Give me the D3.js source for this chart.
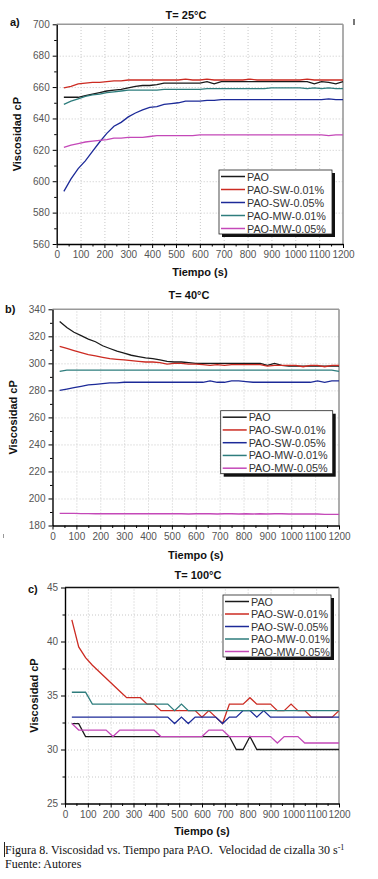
<!DOCTYPE html>
<html lang="es">
<head>
<meta charset="UTF-8" />
<title>Viscosidad vs Tiempo PAO</title>
<style>
  body { margin: 0; background: #fff; }
  svg { display: block; font-family: "Liberation Sans", Arial, sans-serif; }
  .tick text { fill: #555; font-size: 10px; }
  .grid line { stroke: #c8c8c8; stroke-dasharray: 1 2; }
  .grid path { display: none; }
  .title, .axis-title { font-weight: bold; font-size: 11px; fill: #111; }
  .leg text { font-size: 10.8px; fill: #333; }
  .caption { font-family: "Liberation Serif", "Times New Roman", serif; font-size: 12px; fill: #111; white-space: pre; }
</style>
</head>
<body>
<script src="https://cdn.jsdelivr.net/npm/d3@7/dist/d3.min.js"></script>
<script>
// tiempo de medida (s), igual para los tres paneles
const times = [30,60,90,120,150,180,210,240,270,300,330,360,390,420,450,480,510,540,570,600,
               630,660,690,720,750,780,810,840,870,900,930,960,990,1020,1050,1080,1110,1140,1170,1200];

const seriesNames = ["PAO", "PAO-SW-0.01%", "PAO-SW-0.05%", "PAO-MW-0.01%", "PAO-MW-0.05%"];
const seriesColors = ["#1a1a1a", "#cc2b22", "#1c2a98", "#2e7d7d", "#c448b8"];

// a) T = 25 C
const paoA  = [653.5,653.5,653.5,654.5,655.5,656.5,657.5,658,658.5,659.5,660.5,661,661,661.5,662.5,662.5,662.5,662.5,662.5,662.5,
               663.5,662,663.5,663.5,663.5,663.5,663.5,663.5,663.5,663.5,663.5,663.5,663.5,663.5,663.5,662,663.5,663,662,663.5];
const sw1A  = [659.5,660.5,662,662.5,663,663,663.5,664,664,664.5,664.5,664.5,664.5,664.5,664.5,664.5,664.5,665,664.5,664.5,
               665,664.5,664.5,664.5,664.5,664.5,665,664.5,664.5,664.5,664.5,664.5,664.5,664.5,665,664.5,664.5,664.5,664.5,664.5];
const sw5A  = [593.5,601.5,608,613,619,625,630.5,635,637.5,641,643.5,645.5,647,647.5,649,649.5,650,651,651,651,
               651.5,651.5,652,652,652,652,652,652,652,652,652,652,652,652,652,652,652,652.5,652,652];
const mw1A  = [649,651,652.5,654,655,655.5,656.5,657,657.5,658,658,658,658,658,658.5,658.5,658.5,658.5,658.5,658.5,
               659,659,659,659,659,659,659,659,659,659.5,659.5,659.5,659.5,659.5,659,659.5,659,659.5,659,659];
const mw5A  = [621.5,623,624,625,625.5,626,626.5,627.5,627.5,628,628,628,628.5,629,629,629,629,629,629,629.5,
               629.5,629.5,629.5,629.5,629.5,629.5,629.5,629.5,629.5,629.5,629.5,629.5,629.5,629.5,629.5,629.5,629.5,629,629.5,629.5];

// b) T = 40 C
const paoB  = [331,326.5,323,320.5,318,316,313,311,309,307.5,306,305,304,303.5,302.5,301.5,301,301,300.5,300,
               300,300,300,300,300,300,300,300,300,298.5,300,298.5,298,298,298,298,298,298,298,298];
const sw1B  = [312.5,311,309.5,308,306.5,305.5,304.5,303.5,303,302.5,302,301.5,301,301,300.5,299.5,300,300,299.5,299.5,
               299,298.5,299,298.5,299,299,299,299,299,298,298.5,298.5,298.5,298.5,297.5,298.5,298.5,297.5,298.5,298.5];
const sw5B  = [280,281,282,283,284,284.5,285,285.5,285.5,286,286,286,286,286,286,286,286,286,286,286,
               286,287,286,286,287,287,286.5,286,286,286,286,286,286,286,286,286,287,286,287,287];
const mw1B  = [294,295,295,295,295,295,295,295,295,295,295,295,295,295,295,295,295,295,295,295,
               295,295,295,295,295,295,295,295,295,295,295,295,295,295,295,295,295,295,295,294];
const mw5B  = [189,189,189,188.8,188.8,188.7,188.7,188.7,188.7,188.7,188.7,188.7,188.7,188.7,188.7,188.7,188.7,188.7,188.5,188.7,
               188.7,188.7,188.5,188.7,188.7,188.5,188.7,188.5,188.7,188.5,188.7,188.7,188.5,188.5,188.5,188.5,188.5,188.3,188.3,188.3];

// c) T = 100 C
const paoC  = [32.4,32.4,31.2,31.2,31.2,31.2,31.2,31.2,31.2,31.2,31.2,31.2,31.2,31.2,31.2,31.2,31.2,31.2,31.2,31.2,
               31.2,31.2,31.2,31.2,30,30,31.2,30,30,30,30,30,30,30,30,30,30,30,30,30];
const sw1C  = [42,39.5,38.5,37.8,37.2,36.6,36,35.4,34.8,34.8,34.8,34.2,34.2,33.6,33.6,33.6,33.6,33.6,33.6,33,
               33.6,33,32.4,34.2,34.2,34.2,34.8,34.2,34.2,34.2,33.6,33.6,34.2,33.6,33.6,33,33,33,33,33.6];
const sw5C  = [33,33,33,33,33,33,33,33,33,33,33,33,33,33,33,32.4,33,32.4,33,33,
               33,33,32.4,33,33,33.6,33.6,33,33.6,33,33,33,33,33,33,33,33,33,33,33];
const mw1C  = [35.3,35.3,35.3,34.2,34.2,34.2,34.2,34.2,34.2,34.2,34.2,34.2,34.2,34.2,34.2,33.6,34.2,33.6,33.6,33.6,
               33.6,33.6,33.6,33.6,33.6,33.6,33.6,33.6,33.6,33.6,33.6,33.6,33.6,33.6,33.6,33.6,33.6,33.6,33.6,33.6];
const mw5C  = [32.4,31.8,31.8,31.8,31.8,31.8,31.2,31.8,31.8,31.8,31.8,31.8,31.8,31.2,31.2,31.2,31.2,31.2,31.2,31.2,
               31.8,31.8,31.8,31.2,31.2,31.2,31.2,31.2,31.2,31.2,30.6,31.2,31.2,31.2,30.6,30.6,30.6,30.6,30.6,30.6];

const xTicks = [0,100,200,300,400,500,600,700,800,900,1000,1100,1200];
const xMinor = [50,150,250,350,450,550,650,750,850,950,1050,1150];
const yTicksA = [560,580,600,620,640,660,680,700];
const yTicksB = [180,200,220,240,260,280,300,320,340];
const yTicksC = [25,30,35,40,45];

const panels = [
  { label: "a)", title: "T= 25°C", series: [paoA, sw1A, sw5A, mw1A, mw5A],
    yDomain: [560, 700], yTicks: yTicksA, yMinorStep: 10, yGrid: yTicksA,
    left: 56.7, right: 343, top: 24.3, bottom: 244, topColor: "#999",
    labelPos: [10, 26], titlePos: [186, 19], yTitleX: 21, xTitleY: 276,
    legend: { x: 219, y: 170, w: 113, h: 64 } },
  { label: "b)", title: "T= 40°C", series: [paoB, sw1B, sw5B, mw1B, mw5B],
    yDomain: [180, 340], yTicks: yTicksB, yMinorStep: 10, yGrid: yTicksB,
    left: 52.5, right: 339, top: 309.3, bottom: 525.5, topColor: "#999",
    labelPos: [5, 313], titlePos: [189, 299], yTitleX: 17, xTitleY: 559,
    legend: { x: 220.7, y: 410.7, w: 112, h: 63 } },
  { label: "c)", title: "T= 100°C", series: [paoC, sw1C, sw5C, mw1C, mw5C],
    yDomain: [25, 45], yTicks: yTicksC, yMinorStep: 2.5,
    yGrid: [27.5,30,32.5,35,37.5,40,42.5],
    left: 65, right: 339, top: 587.5, bottom: 803.5, topColor: "#111",
    labelPos: [28, 593], titlePos: [198, 579], yTitleX: 38, xTitleY: 835,
    legend: { x: 223, y: 595, w: 108, h: 62 } }
];

const svg = d3.select("body").append("svg")
  .attr("width", 378).attr("height", 879);

panels.forEach(p => {
  const x = d3.scaleLinear().domain([0, 1200]).range([p.left, p.right]);
  const y = d3.scaleLinear().domain(p.yDomain).range([p.bottom, p.top]);
  const g = svg.append("g");
  const w = p.right - p.left, h = p.bottom - p.top;

  // rejilla punteada
  g.append("g").attr("class", "grid")
    .attr("transform", `translate(0,${p.bottom})`)
    .call(d3.axisBottom(x).tickValues(xTicks.slice(1, -1)).tickSize(-h).tickFormat(""));
  g.append("g").attr("class", "grid")
    .attr("transform", `translate(${p.left},0)`)
    .call(d3.axisLeft(y).tickValues(p.yGrid.filter(v => v > p.yDomain[0] && v < p.yDomain[1])).tickSize(-w).tickFormat(""));

  // marco superior y derecho
  g.append("line").attr("x1", p.left).attr("x2", p.right).attr("y1", p.top).attr("y2", p.top)
    .attr("stroke", p.topColor).attr("stroke-width", 1.4);
  g.append("line").attr("x1", p.right).attr("x2", p.right).attr("y1", p.top).attr("y2", p.bottom)
    .attr("stroke", "#999").attr("stroke-width", 1.6);

  // curvas
  const line = d3.line().x((d, i) => x(times[i])).y(d => y(d));
  p.series.forEach((s, k) => {
    g.append("path").datum(s)
      .attr("fill", "none")
      .attr("stroke", seriesColors[k])
      .attr("stroke-width", 1.3)
      .attr("d", line);
  });

  // ejes
  const yMinor = d3.range(p.yDomain[0] + p.yMinorStep, p.yDomain[1], p.yMinorStep * 2);
  g.append("g").attr("transform", `translate(0,${p.bottom})`)
    .call(d3.axisBottom(x).tickValues(xMinor).tickSize(2.5).tickFormat(""))
    .call(a => a.select(".domain").remove());
  g.append("g").attr("transform", `translate(${p.left},0)`)
    .call(d3.axisLeft(y).tickValues(yMinor).tickSize(2.5).tickFormat(""))
    .call(a => a.select(".domain").remove());
  g.append("g").attr("transform", `translate(0,${p.bottom})`)
    .call(d3.axisBottom(x).tickValues(xTicks).tickSize(4).tickSizeOuter(0).tickPadding(3).tickFormat(d3.format("d")))
    .call(a => a.select(".domain").attr("stroke-width", 1.4));
  g.append("g").attr("transform", `translate(${p.left},0)`)
    .call(d3.axisLeft(y).tickValues(p.yTicks).tickSize(4).tickSizeOuter(0).tickPadding(3).tickFormat(d3.format("d")))
    .call(a => a.select(".domain").attr("stroke-width", 1.4));

  // textos
  svg.append("text").attr("class", "title").attr("text-anchor", "middle")
    .attr("x", p.titlePos[0]).attr("y", p.titlePos[1]).text(p.title);
  svg.append("text").attr("class", "title").attr("x", p.labelPos[0]).attr("y", p.labelPos[1]).text(p.label);
  svg.append("text").attr("class", "axis-title").attr("text-anchor", "middle")
    .attr("transform", `translate(${p.yTitleX},${(p.top + p.bottom) / 2}) rotate(-90)`)
    .text("Viscosidad cP");
  svg.append("text").attr("class", "axis-title").attr("text-anchor", "middle")
    .attr("x", (p.left + p.right) / 2).attr("y", p.xTitleY).text("Tiempo (s)");

  // leyenda con sombra
  const L = p.legend;
  const leg = svg.append("g").attr("class", "leg").attr("transform", `translate(${L.x},${L.y})`);
  leg.append("rect").attr("x", 3).attr("y", 3).attr("width", L.w).attr("height", L.h).attr("fill", "#111");
  leg.append("rect").attr("width", L.w).attr("height", L.h).attr("fill", "#fff")
    .attr("stroke", "#222").attr("stroke-width", 0.8);
  const rowH = (L.h - 12) / 4;
  seriesNames.forEach((name, k) => {
    const ry = 6.5 + k * rowH;
    leg.append("line").attr("x1", 2).attr("x2", 26).attr("y1", ry).attr("y2", ry)
      .attr("stroke", seriesColors[k]).attr("stroke-width", 1.5);
    leg.append("text").attr("x", 28).attr("y", ry + 4).text(name);
  });
});

// marcas sueltas del escaneo
svg.append("rect").attr("x", 353).attr("y", 19).attr("width", 2).attr("height", 6).attr("fill", "#777");
svg.append("rect").attr("x", 3).attr("y", 534).attr("width", 1).attr("height", 4).attr("fill", "#999");
svg.append("rect").attr("x", 4).attr("y", 842).attr("width", 1).attr("height", 15).attr("fill", "#222");

// pie de figura
const cap = svg.append("text").attr("class", "caption").attr("x", 5).attr("y", 854);
cap.append("tspan").text("Figura 8. Viscosidad vs. Tiempo para PAO.  Velocidad de cizalla 30 s");
cap.append("tspan").attr("dy", -4).attr("font-size", "8px").text("-1");
svg.append("text").attr("class", "caption").attr("x", 5).attr("y", 868).text("Fuente: Autores");
</script>
</body>
</html>
